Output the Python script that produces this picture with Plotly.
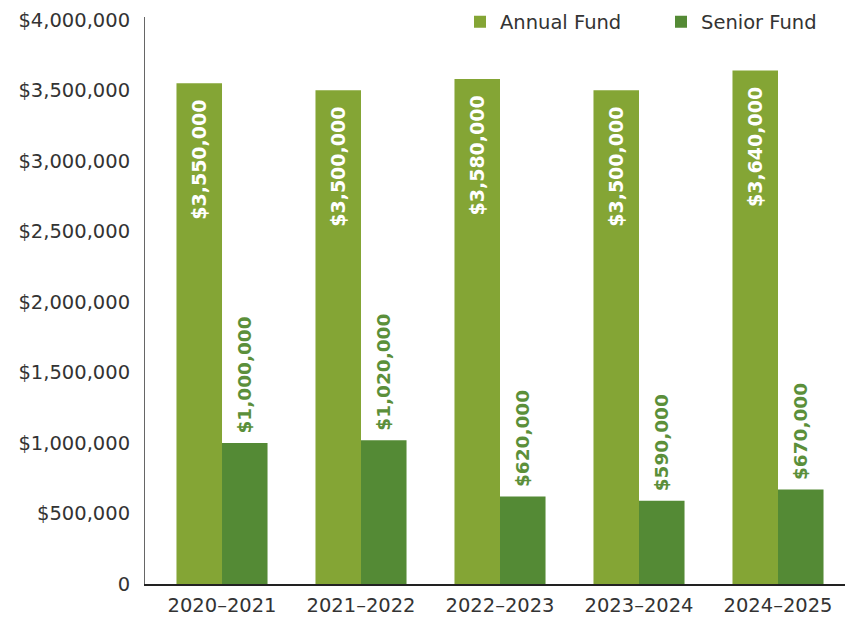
import plotly.graph_objects as go

years = ["2020–2021", "2021–2022", "2022–2023", "2023–2024", "2024–2025"]
annual_fund = [3550000, 3500000, 3580000, 3500000, 3640000]
senior_fund = [1000000, 1020000, 620000, 590000, 670000]
y_ticks = [0, 500000, 1000000, 1500000, 2000000, 2500000, 3000000, 3500000, 4000000]

ANNUAL_COLOR = "#84a535"
SENIOR_COLOR = "#548a35"
LABEL_GREEN = "#5b8f3a"
FONT = "DejaVu Sans"
NB = "\u00a0"


def money(v):
    return f"${v:,.0f}"


fig = go.Figure()

fig.add_trace(
    go.Bar(
        x=years,
        y=annual_fund,
        name="Annual Fund",
        marker=dict(color=ANNUAL_COLOR, line=dict(width=0)),
        text=[money(v) + NB * 2 for v in annual_fund],
        textposition="inside",
        insidetextanchor="end",
        textangle=-90,
        textfont=dict(family=FONT, size=19, color="white", weight="bold"),
        constraintext="none",
    )
)

fig.add_trace(
    go.Bar(
        x=years,
        y=senior_fund,
        name="Senior Fund",
        marker=dict(color=SENIOR_COLOR, line=dict(width=0)),
        text=[NB + money(v) for v in senior_fund],
        textposition="outside",
        textangle=-90,
        textfont=dict(family=FONT, size=18.5, color=LABEL_GREEN, weight="bold"),
        constraintext="none",
        cliponaxis=False,
    )
)

fig.update_layout(
    width=845,
    height=617,
    barmode="group",
    bargap=0.345,
    bargroupgap=0,
    paper_bgcolor="white",
    plot_bgcolor="white",
    margin=dict(l=145, r=0, t=17, b=33, autoexpand=False),
    font=dict(family=FONT, size=19.5, color="#333333"),
    legend=dict(
        orientation="h",
        x=0.45,
        xanchor="left",
        y=0.991,
        yanchor="middle",
        font=dict(size=19.5, color="#333333"),
        bgcolor="rgba(0,0,0,0)",
        entrywidth=156,
    ),
    xaxis=dict(
        range=[-0.554, 4.482],
        showgrid=False,
        showline=True,
        linecolor="#222222",
        linewidth=1.5,
        ticks="",
        ticklabelstandoff=3,
        tickfont=dict(size=19.5, color="#333333"),
    ),
    yaxis=dict(
        range=[0, 4020000],
        tickvals=y_ticks,
        ticktext=[money(v) if v else "0" for v in y_ticks],
        showgrid=False,
        zeroline=False,
        showline=True,
        linecolor="#666666",
        linewidth=1,
        ticks="",
        ticklabelstandoff=10,
        tickfont=dict(size=19.5, color="#333333"),
    ),
)

fig.write_html(
    "out.html",
    config={"displayModeBar": False},
    post_script="document.body.style.margin='0';",
)
